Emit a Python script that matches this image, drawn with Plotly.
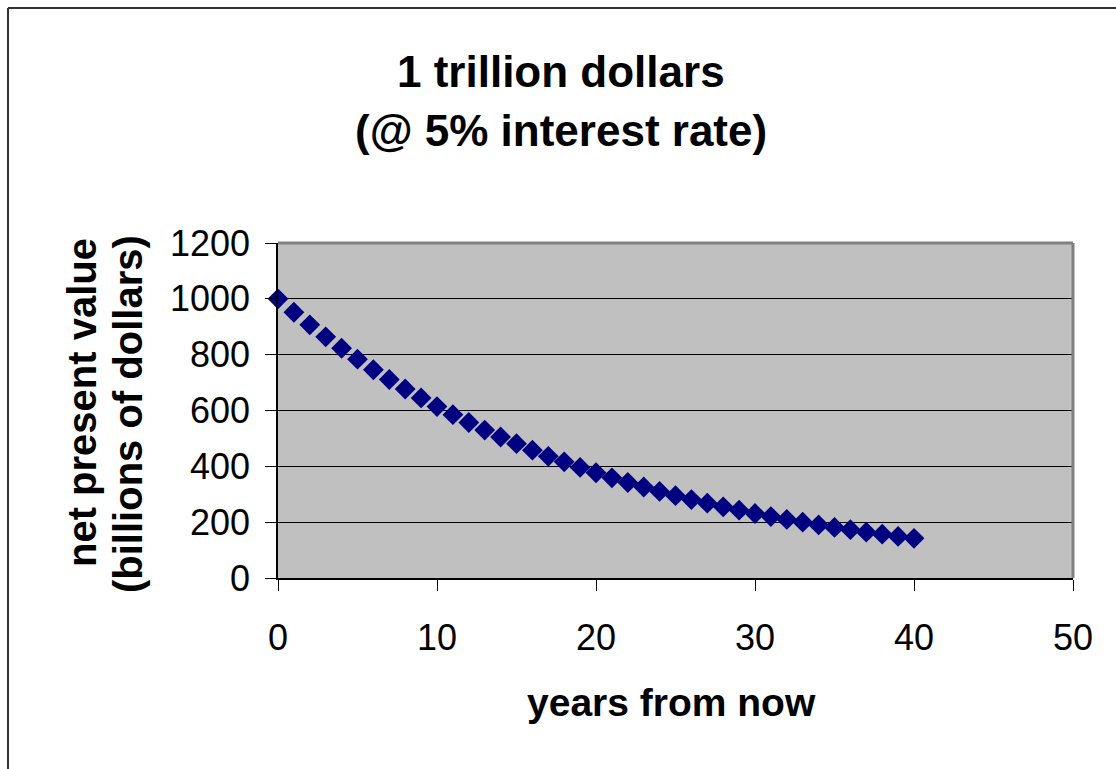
import plotly.graph_objects as go

# Present value of 1 trillion dollars received N years from now (billions)
years = list(range(0, 41))
npv = [1000, 952, 907, 864, 823, 784, 746, 711, 677, 645,
       614, 585, 557, 530, 505, 481, 458, 436, 416, 396,
       377, 359, 342, 326, 310, 295, 281, 268, 255, 243,
       231, 220, 210, 200, 190, 181, 173, 164, 157, 149, 142]

x_ticks = [0, 10, 20, 30, 40, 50]
y_ticks = [0, 200, 400, 600, 800, 1000, 1200]

title_lines = ["1 trillion dollars", "(@ 5% interest rate)"]
x_title = "years from now"
y_title_lines = ["net present value", "(billions of dollars)"]

FONT = "Liberation Sans, Arial, sans-serif"

fig = go.Figure()
fig.add_trace(go.Scatter(
    x=years, y=npv, mode="markers",
    marker=dict(symbol="diamond", size=16, color="#000080",
                line=dict(width=0)),
    showlegend=False, cliponaxis=False,
))

axis_common = dict(
    showline=True, linecolor="black", linewidth=1.5,
    ticks="outside", ticklen=11, tickwidth=1, tickcolor="black",
    tickfont=dict(family=FONT, size=36, color="black"),
    zeroline=False,
)

fig.update_xaxes(range=[0, 50], tickvals=x_ticks, showgrid=False,
                 ticklabelstandoff=16, **axis_common)
fig.update_yaxes(range=[0, 1200], tickvals=y_ticks, showgrid=True,
                 gridcolor="black", gridwidth=1,
                 ticklabelstandoff=8, **axis_common)

def px(xp):
    return (xp - 278) / 795

def py(yp):
    return (578 - yp) / 335

annotations = []
for text, yc in zip(title_lines, [71, 130]):
    annotations.append(dict(
        text=f"<b>{text}</b>", xref="paper", yref="paper",
        x=px(561), y=py(yc), xanchor="center", yanchor="middle",
        showarrow=False, font=dict(family=FONT, size=44, color="black")))
annotations.append(dict(
    text=f"<b>{x_title}</b>", xref="paper", yref="paper",
    x=px(671), y=py(702), xanchor="center", yanchor="middle",
    showarrow=False, font=dict(family=FONT, size=39, color="black")))
for text, xc, yc in zip(y_title_lines, [82, 128], [403, 414]):
    annotations.append(dict(
        text=f"<b>{text}</b>", xref="paper", yref="paper",
        x=px(xc), y=py(yc), xanchor="center", yanchor="middle",
        textangle=-90, showarrow=False,
        font=dict(family=FONT, size=40, color="black")))

shapes = [
    # gray top and right edges of the plot area
    dict(type="line", xref="paper", yref="paper", x0=0, x1=1, y0=1, y1=1,
         line=dict(color="#808080", width=3)),
    dict(type="line", xref="paper", yref="paper", x0=1, x1=1, y0=0, y1=1,
         line=dict(color="#808080", width=3)),
    # outer chart frame
    dict(type="line", xref="paper", yref="paper", x0=px(8), x1=px(8),
         y0=py(8), y1=py(800), line=dict(color="#333333", width=2)),
    dict(type="line", xref="paper", yref="paper", x0=px(8), x1=px(1200),
         y0=py(8), y1=py(8), line=dict(color="#333333", width=2)),
]

fig.update_layout(
    width=1116, height=769,
    margin=dict(l=278, r=43, t=243, b=191),
    paper_bgcolor="white", plot_bgcolor="#C0C0C0",
    annotations=annotations, shapes=shapes,
    font=dict(family=FONT, color="black"),
)

fig.write_html("out.html")
